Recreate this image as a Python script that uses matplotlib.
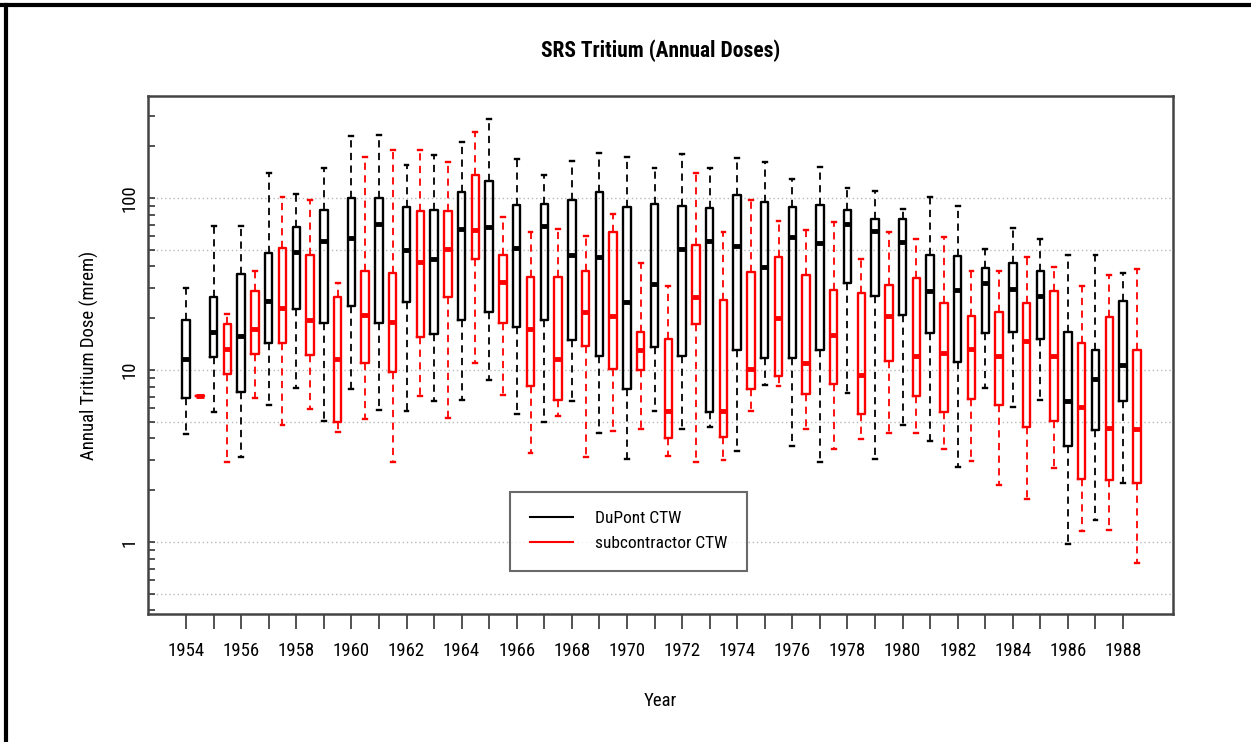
import matplotlib
matplotlib.use("Agg")
import matplotlib.pyplot as plt
from matplotlib import font_manager
from matplotlib.lines import Line2D
from matplotlib.ticker import FixedLocator, NullFormatter, LogLocator

# the reference uses a narrow Arial-like face; take a condensed one if it is there
installed = {f.name for f in font_manager.fontManager.ttflist}
narrow = [n for n in ['Liberation Sans Narrow', 'Roboto Condensed', 'Open Sans Condensed',
                      'Noto Sans Condensed', 'Arial Narrow'] if n in installed]
plt.rcParams['font.family'] = narrow[:1] + ['Liberation Sans', 'DejaVu Sans']
fsize = 13.5 if narrow else 12

years = list(range(1954, 1989))

# DuPont CTW: lower whisker, Q1, median, Q3, upper whisker (mrem)
dupont_lo = [4.25, 5.7, 3.11, 6.28, 7.87, 5.07, 7.8, 5.89, 5.75, 6.58, 6.73, 8.7,
             5.58, 4.96, 6.6, 4.31, 3.05, 5.75, 4.52, 4.67, 3.38, 8.2, 3.59, 2.92,
             7.35, 3.05, 4.78, 3.85, 2.72, 7.87, 6.1, 6.7, 0.97, 1.34, 2.2]
dupont_q1 = [6.9, 11.9, 7.45, 14.3, 22.5, 18.7, 23.5, 18.7, 25, 16.3, 19.6, 21.6,
             17.8, 19.6, 14.9, 12, 7.76, 13.6, 12, 5.7, 13, 11.75, 11.75, 13.1,
             32, 27, 20.9, 16.4, 11.2, 16.4, 16.6, 15.2, 3.59, 4.46, 6.6]
dupont_med = [11.6, 16.7, 15.7, 25.2, 48.4, 56.1, 58.9, 70.8, 50, 44, 66.4, 67.6,
              51, 68.5, 46.9, 45.4, 24.8, 31.6, 50.2, 56.5, 52.6, 39.9, 59.2, 54.4,
              70.8, 64.3, 55.3, 28.8, 29.3, 32.1, 29.6, 27, 6.6, 8.83, 10.7]
dupont_q3 = [19.4, 26.5, 36, 47.7, 68.3, 84.7, 100, 100, 88.7, 84.7, 109, 125,
             91.6, 92.9, 96.8, 109, 88.7, 92.9, 90.4, 87.1, 104, 94.6, 88.7, 91.6,
             85.5, 75.5, 75.5, 46.9, 46, 39.4, 41.8, 37.8, 16.6, 13.1, 25.2]
dupont_hi = [30, 68.5, 68.5, 140, 105, 149, 231, 234, 155, 177, 211, 287,
             168, 137, 165, 183, 174, 150, 181, 150, 171, 161, 129, 152,
             114, 110, 85.9, 102, 90.4, 50.2, 67, 57.8, 46.9, 46.9, 36.7]

# subcontractor CTW
sub_lo = [7.08, 2.92, 6.9, 4.76, 5.97, 4.35, 5.16, 2.92, 7.08, 5.24, 11, 7.17,
          3.3, 5.43, 3.11, 4.4, 4.52, 3.16, 2.92, 2.99, 5.75, 8.05, 4.52, 3.49,
          3.97, 4.31, 4.31, 3.49, 2.94, 2.14, 1.78, 2.69, 1.16, 1.18, 0.75]
sub_q1 = [7.08, 9.5, 12.4, 14.3, 12.2, 4.96, 11, 9.77, 15.6, 26.5, 44, 18.7,
          8.05, 6.67, 13.8, 10.1, 10, 4.03, 18.6, 4.1, 7.76, 9.2, 7.24, 8.32,
          5.53, 11.3, 7.08, 5.7, 6.82, 6.25, 4.67, 5.07, 2.31, 2.28, 2.2]
sub_med = [7.08, 13.3, 17.2, 22.9, 19.4, 11.6, 21, 19.1, 42.4, 50.2, 65.2, 32.7,
           17.2, 11.6, 21.7, 20.7, 13.1, 5.8, 26.5, 5.8, 10.1, 20.1, 11, 16,
           9.33, 20.5, 12.1, 12.5, 13.2, 12.1, 14.7, 12.1, 6.1, 4.6, 4.54]
sub_q3 = [7.08, 18.4, 28.8, 51, 46.9, 26.5, 37.6, 36.7, 84.3, 83.6, 136, 46.9,
          34.7, 34.7, 37.4, 63.4, 16.6, 15.1, 53.4, 25.5, 37.3, 45.2, 35.6, 29,
          28.2, 31.3, 34.3, 24.4, 20.5, 21.6, 24.4, 28.7, 14.3, 20.2, 13]
sub_hi = [7.08, 21.2, 37.6, 102, 98, 32.1, 174, 189, 189, 163, 241, 77.3,
          63.4, 66.4, 60.3, 80.5, 41.8, 30.7, 139, 63.4, 96.8, 73.4, 64.9, 72.8,
          44.2, 63.4, 58, 59.2, 37.6, 37.6, 45.2, 39.9, 30.7, 35.6, 38.6]

grid_values = [0.5, 1, 5, 10, 50, 100]


def make_stats(lo, q1, med, q3, hi):
    stats = []
    for a, b, c, d, e in zip(lo, q1, med, q3, hi):
        stats.append({'whislo': a, 'q1': b, 'med': c, 'q3': d, 'whishi': e, 'fliers': []})
    return stats


def draw_boxes(ax, stats, positions, color):
    ax.bxp(stats, positions=positions, widths=0.27, capwidths=0.14,
           showfliers=False, manage_ticks=False,
           boxprops=dict(color=color, linewidth=1.7),
           whiskerprops=dict(color=color, linewidth=1.3, linestyle=(0, (4, 3))),
           capprops=dict(color=color, linewidth=1.7),
           medianprops=dict(color=color, linewidth=3.5, solid_capstyle='butt'))


fig = plt.figure(figsize=(12.51, 7.42), dpi=100)
ax = fig.add_axes([0.1183, 0.1725, 0.8193, 0.6981])
ax.set_yscale('log')

for g in grid_values:
    ax.axhline(g, color='#b8b8b8', linestyle=(0, (1, 2)), linewidth=1, zorder=0)

draw_boxes(ax, make_stats(dupont_lo, dupont_q1, dupont_med, dupont_q3, dupont_hi),
           years, 'black')
draw_boxes(ax, make_stats(sub_lo, sub_q1, sub_med, sub_q3, sub_hi),
           [y + 0.5 for y in years], '#ff0000')

ax.set_xlim(1952.62, 1989.81)
ax.set_ylim(0.381, 392)

# axes styling like R base graphics
for s in ax.spines.values():
    s.set_color('#444444')
    s.set_linewidth(1.8)

ax.xaxis.set_major_locator(FixedLocator(years))
ax.set_xticklabels([str(y) if (y - 1954) % 2 == 0 else '' for y in years], fontsize=fsize)
ax.tick_params(axis='x', direction='out', length=11, width=1.3, color='#444444', pad=9)

ax.yaxis.set_major_locator(FixedLocator([1, 10, 100]))
ax.set_yticklabels(['1', '10', '100'], rotation=90, va='center', fontsize=fsize)
ax.yaxis.set_minor_locator(LogLocator(base=10, subs=range(2, 10)))
ax.yaxis.set_minor_formatter(NullFormatter())
ax.tick_params(axis='y', which='both', direction='in', length=5, width=1.3,
               color='#444444', pad=7)

ax.set_xlabel('Year', fontsize=fsize, labelpad=23)
ax.set_ylabel('Annual Tritium Dose (mrem)', fontsize=fsize, labelpad=15)
ax.set_title('SRS Tritium (Annual Doses)', fontsize=fsize + 2, fontweight='bold', pad=28)

handles = [Line2D([], [], color='black', linewidth=1.5),
           Line2D([], [], color='#ff0000', linewidth=1.5)]
leg = ax.legend(handles, ['DuPont CTW', 'subcontractor CTW'], loc='center',
                bbox_to_anchor=(0.469, 0.16), fontsize=fsize - 1, frameon=True,
                fancybox=False, edgecolor='#444444', handlelength=2.5,
                borderpad=1.1, labelspacing=0.6, handletextpad=1.3, borderaxespad=0)
leg.get_frame().set_linewidth(1.5)

# outer border of the figure
fig.add_artist(Line2D([0, 1], [1 - 5 / 742, 1 - 5 / 742], color='black', linewidth=3,
                      transform=fig.transFigure))
fig.add_artist(Line2D([6 / 1251, 6 / 1251], [0, 1 - 5 / 742], color='black', linewidth=3,
                      transform=fig.transFigure))

fig.savefig('out.png', dpi=100)
